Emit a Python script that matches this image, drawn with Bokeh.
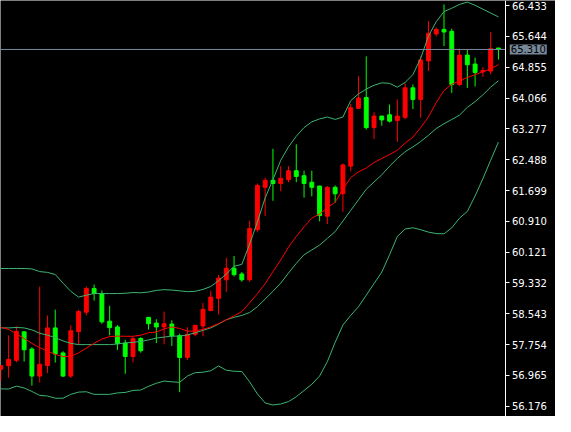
from bokeh.plotting import figure
from bokeh.models import ColumnDataSource, Range1d, FixedTicker, PrintfTickFormatter, Label
from bokeh.embed import file_html
from bokeh.resources import INLINE

# ---- data ----
opens = [57.121, 57.212, 57.350, 58.082, 57.639, 56.948, 57.219, 58.181, 57.540, 56.948,
         58.090, 58.583, 59.192, 59.061, 58.354, 58.206, 57.794, 57.449, 57.910, 58.452,
         58.304, 58.206, 58.280, 57.984, 57.424, 58.016, 58.230, 58.625, 58.938, 59.414,
         59.710, 59.562, 59.414, 60.696, 61.781, 61.961, 61.879, 61.978, 62.207, 62.077,
         61.911, 61.813, 61.041, 61.781, 61.616, 62.323, 63.803, 64.081, 63.309, 63.605,
         63.637, 63.489, 63.573, 64.328, 64.032, 65.018, 65.708, 65.824, 65.775, 64.412,
         65.166, 64.937, 64.739, 64.757, 65.348]
highs = [57.230, 57.991, 58.223, 58.090, 57.688, 59.241, 58.501, 58.649, 57.582, 58.248,
         58.649, 59.241, 59.290, 59.143, 58.748, 58.255, 57.878, 57.959, 57.942, 58.452,
         58.403, 58.600, 58.378, 58.033, 58.198, 58.260, 58.822, 59.135, 59.537, 59.974,
         60.023, 59.611, 60.925, 61.879, 62.027, 62.767, 62.323, 62.323, 62.883, 62.207,
         62.207, 61.820, 61.813, 61.830, 62.390, 63.918, 64.624, 65.134, 63.704, 63.610,
         63.901, 64.032, 64.444, 64.412, 65.134, 66.039, 65.874, 66.465, 65.842, 65.331,
         65.314, 65.102, 64.855, 65.758, 65.348]
lows = [56.825, 56.906, 57.301, 57.318, 56.702, 56.783, 57.022, 57.293, 56.924, 56.899,
        57.762, 58.501, 58.879, 58.287, 57.991, 57.614, 57.005, 57.301, 57.547, 58.139,
        57.794, 57.762, 57.720, 56.536, 57.360, 57.967, 57.967, 58.608, 58.526, 59.101,
        59.495, 59.364, 59.364, 60.629, 61.041, 61.436, 61.682, 61.911, 61.911, 61.517,
        61.551, 60.910, 60.844, 61.386, 61.157, 62.193, 63.785, 63.260, 63.014, 63.359,
        63.440, 62.947, 63.524, 63.785, 63.563, 64.757, 65.644, 65.398, 64.197, 64.377,
        64.328, 64.362, 64.609, 64.673, 65.053]
closes = [57.219, 57.375, 58.090, 57.621, 56.948, 57.251, 58.181, 57.515, 56.948, 58.107,
          58.600, 59.192, 59.061, 58.336, 58.188, 57.779, 57.449, 57.910, 57.597, 58.287,
          58.206, 58.287, 57.976, 57.424, 58.016, 58.248, 58.657, 58.970, 59.456, 59.710,
          59.545, 59.414, 60.728, 61.830, 61.961, 61.879, 62.010, 62.207, 62.059, 61.879,
          61.781, 61.058, 61.781, 61.616, 62.355, 63.820, 64.066, 63.309, 63.605, 63.507,
          63.475, 63.605, 64.328, 64.032, 65.043, 65.726, 65.824, 65.758, 64.412, 65.166,
          64.919, 64.722, 64.772, 65.331, 65.310]

upper_band = [59.702, 59.702, 59.702, 59.702, 59.692, 59.623, 59.603, 59.549, 59.327, 59.118,
              58.970, 59.019, 59.061, 59.061, 59.061, 59.061, 59.068, 59.086, 59.081, 59.100,
              59.142, 59.160, 59.150, 59.130, 59.110, 59.118, 59.167, 59.241, 59.389, 59.561,
              59.759, 59.808, 60.326, 60.893, 61.510, 61.978, 62.472, 62.817, 63.088, 63.310,
              63.458, 63.532, 63.581, 63.519, 63.581, 63.999, 64.172, 64.295, 64.394, 64.456,
              64.443, 64.345, 64.468, 64.665, 65.084, 65.652, 66.021, 66.280, 66.366, 66.465,
              66.522, 66.441, 66.342, 66.243, 66.145]
middle_band = [58.181, 58.181, 58.193, 58.181, 58.131, 58.045, 57.996, 57.934, 57.848, 57.786,
               57.754, 57.754, 57.754, 57.754, 57.754, 57.769, 57.798, 57.811, 57.835, 57.872,
               57.922, 57.946, 57.971, 57.971, 58.001, 58.057, 58.119, 58.181, 58.279, 58.390,
               58.452, 58.501, 58.575, 58.723, 58.920, 59.118, 59.327, 59.586, 59.833, 60.055,
               60.178, 60.301, 60.474, 60.647, 60.918, 61.189, 61.460, 61.732, 61.917, 62.102,
               62.323, 62.521, 62.693, 62.817, 62.952, 63.113, 63.285, 63.409, 63.519, 63.630,
               63.827, 63.975, 64.148, 64.345, 64.510]
lower_band = [56.621, 56.616, 56.690, 56.645, 56.554, 56.455, 56.438, 56.381, 56.381, 56.480,
              56.537, 56.547, 56.480, 56.480, 56.480, 56.517, 56.529, 56.579, 56.591, 56.685,
              56.764, 56.820, 56.801, 56.788, 56.949, 57.035, 57.047, 57.084, 57.208, 57.097,
              57.072, 57.065, 56.801, 56.492, 56.258, 56.208, 56.233, 56.295, 56.418, 56.579,
              56.739, 56.949, 57.318, 57.811, 58.255, 58.501, 58.723, 59.019, 59.315, 59.611,
              60.055, 60.523, 60.713, 60.745, 60.696, 60.634, 60.597, 60.590, 60.745, 60.992,
              61.164, 61.559, 62.003, 62.472, 62.940]
fast_ma = [58.198, 58.144, 58.033, 57.909, 57.786, 57.675, 57.589, 57.502, 57.448, 57.453,
           57.540, 57.663, 57.786, 57.897, 57.959, 57.971, 57.966, 57.966, 57.996, 58.057,
           58.075, 58.156, 58.205, 58.168, 58.099, 58.099, 58.144, 58.205, 58.292, 58.390,
           58.489, 58.600, 58.822, 59.056, 59.315, 59.623, 59.919, 60.252, 60.523, 60.770,
           60.992, 61.098, 61.263, 61.399, 61.732, 62.028, 62.176, 62.274, 62.415, 62.521,
           62.619, 62.730, 62.915, 63.063, 63.310, 63.581, 63.951, 64.259, 64.419, 64.505,
           64.592, 64.666, 64.740, 64.813, 64.920]

tick_values = [56.176, 56.965, 57.754, 58.543, 59.332, 60.121, 60.910,
               61.699, 62.488, 63.277, 64.066, 64.855, 65.644, 66.433]
last_price = 65.310

# ---- figure ----
n = len(opens)
idx = list(range(n))
UP = "#FF0000"
DOWN = "#00FF00"
BAND = "#3CB371"
PRICE = "#778899"

colors = [UP if c > o else DOWN for o, c in zip(opens, closes)]
body_top = [max(o, c) for o, c in zip(opens, closes)]
body_bot = [min(o, c) for o, c in zip(opens, closes)]

src = ColumnDataSource(dict(x=idx, o=opens, h=highs, l=lows, c=closes,
                            top=body_top, bot=body_bot, color=colors,
                            ub=upper_band, mb=middle_band, lb=lower_band, ma=fast_ma))

# the price-scale strip is part of the frame; the scale is pinned at x_axis
x_start, x_axis, x_stop = -0.04, 64.96, 71.34
p = figure(width=555, height=416, output_backend="svg", toolbar_location=None,
           x_range=Range1d(x_start, x_stop), y_range=Range1d(55.913, 66.564),
           x_axis_location=None, y_axis_location="right")
p.background_fill_color = "black"
p.border_fill_color = "black"
p.outline_line_color = None
p.grid.visible = False
p.min_border_left = 0
p.min_border_top = 0
p.min_border_bottom = 0
p.min_border_right = 0

# candles
p.segment(x0="x", y0="l", x1="x", y1="h", color="color", line_width=1, source=src)
p.vbar(x="x", width=0.5, top="top", bottom="bot", fill_color="color",
       line_color="color", line_width=1, source=src)

# indicator lines
p.line("x", "ub", color=BAND, line_width=1, source=src)
p.line("x", "mb", color=BAND, line_width=1, source=src)
p.line("x", "lb", color=BAND, line_width=1, source=src)
p.line("x", "ma", color="#FF0000", line_width=1, source=src)

# current price line (up to the price scale)
p.segment(x0=[x_start], y0=[last_price], x1=[x_axis], y1=[last_price],
          line_color=PRICE, line_width=1)

# price scale
ax = p.yaxis[0]
ax.fixed_location = x_axis
ax.ticker = FixedTicker(ticks=tick_values)
ax.formatter = PrintfTickFormatter(format="%.3f")
ax.axis_line_color = "white"
ax.major_tick_line_color = "white"
ax.major_tick_in = 0
ax.major_tick_out = 4
ax.minor_tick_line_color = None
ax.major_label_text_color = "white"
ax.major_label_text_font = "DejaVu Sans"
ax.major_label_text_font_size = "10px"
ax.major_label_standoff = 2

# current price tag
p.add_layout(Label(x=x_axis + 0.5, y=last_price, text=f"{last_price:.3f}",
                   text_baseline="middle", text_align="left",
                   text_font="DejaVu Sans", text_font_size="10px", text_color="black",
                   background_fill_color=PRICE, padding=1))

open("out.html", "w").write(file_html(p, INLINE))
